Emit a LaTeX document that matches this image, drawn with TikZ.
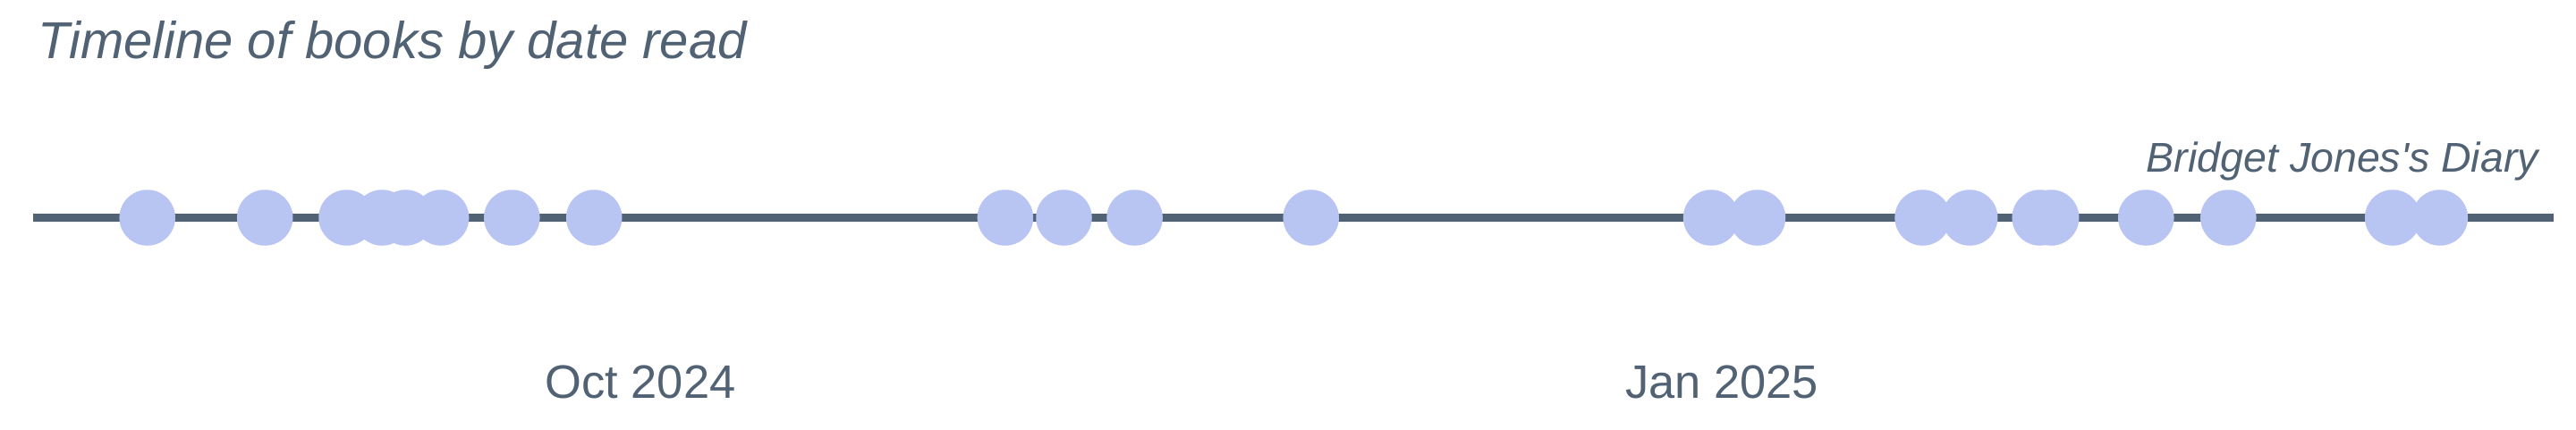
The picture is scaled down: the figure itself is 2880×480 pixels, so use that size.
\documentclass[tikz,border=0pt]{standalone}
\usepackage{fontspec}
\setmainfont{Liberation Sans}
\definecolor{slate}{RGB}{80,98,115}
\definecolor{dot}{RGB}{184,196,242}
\begin{document}
\begin{tikzpicture}[x=1pt,y=-1pt,
  book/.style={circle,fill=dot,inner sep=0pt,minimum size=62.5pt},
  axisline/.style={draw=slate,line width=9pt},
  titletext/.style={text=slate,inner sep=0pt,font=\fontsize{58}{62}\selectfont\itshape},
  labeltext/.style={text=slate,inner sep=0pt,font=\fontsize{46.5}{50}\selectfont\itshape},
  ticktext/.style={text=slate,inner sep=0pt,font=\fontsize{52.5}{56}\selectfont}]
\useasboundingbox (0,0) rectangle (2880,480);
\coordinate (L) at (37,243.5);
\coordinate (R) at (2855,243.5);
\draw[axisline] (L) -- (R);
\foreach \i/\x in {1/164.7,2/296.2,3/387.5,4/427.1,5/453.5,6/493.1,7/572.3,8/664.2,
  9/1123.9,10/1189.5,11/1268.6,12/1465.7,
  13/1913.1,14/1965,15/2149.6,16/2202.2,17/2280.7,18/2293.2,19/2399.3,20/2491.3,21/2675.2,22/2727.8}
  \node[book] (c\i) at (\x,243.5) {};
\node[titletext,anchor=base west] (title) at (42,65.7) {Timeline of books by date read};
\node[labeltext,anchor=base east] (bj) at (2838,192.7) {Bridget Jones\textquotesingle s Diary};
\node[ticktext,anchor=base] (oct) at (716,445) {Oct 2024};
\node[ticktext,anchor=base] (jan) at (1925,445) {Jan 2025};
\end{tikzpicture}
\end{document}
